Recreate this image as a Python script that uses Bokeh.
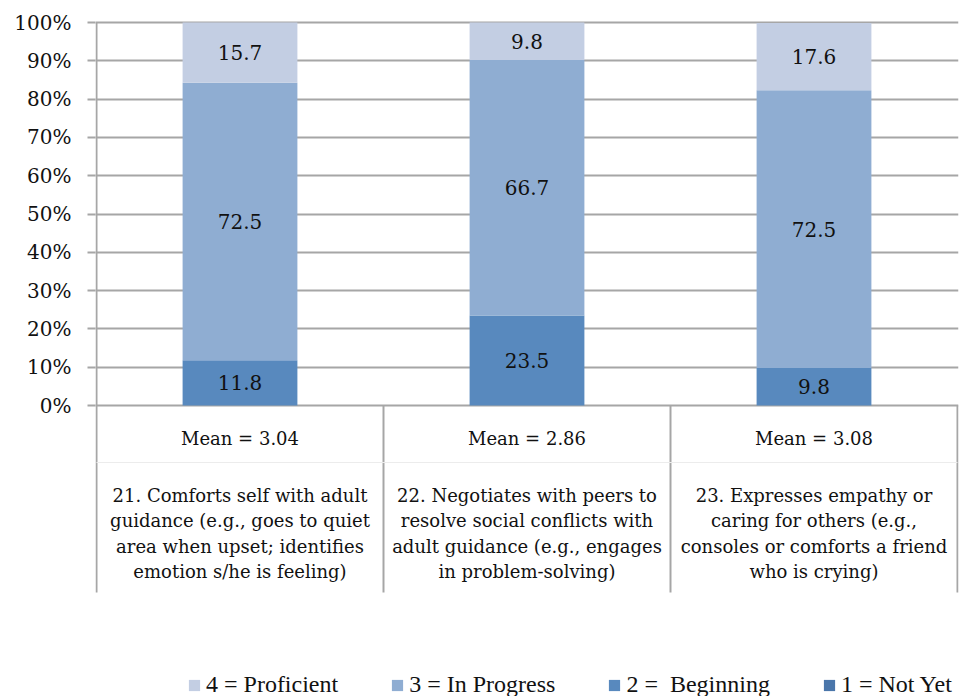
import numpy as np
from bokeh.plotting import figure
from bokeh.models import (ColumnDataSource, Range1d, FixedTicker, PrintfTickFormatter,
                          Legend, LegendItem)
from bokeh.core.properties import value
from bokeh.embed import file_html
from bokeh.resources import INLINE

# --- data -------------------------------------------------------------------
items = ["21", "22", "23"]
descriptions = [
    "21. Comforts self with adult\nguidance (e.g., goes to quiet\narea when upset; identifies\nemotion s/he is feeling)",
    "22. Negotiates with peers to\nresolve social conflicts with\nadult guidance (e.g., engages\nin problem-solving)",
    "23. Expresses empathy or\ncaring for others (e.g.,\nconsoles or comforts a friend\nwho is crying)",
]
means = [3.04, 2.86, 3.08]

not_yet = [0.0, 0.0, 0.0]
beginning = [11.8, 23.5, 9.8]
in_progress = [72.5, 66.7, 72.5]
proficient = [15.7, 9.8, 17.6]

series_keys = ["not_yet", "beginning", "in_progress", "proficient"]
series_names = ["1 = Not Yet", "2 =  Beginning", "3 = In Progress", "4 = Proficient"]
series_colors = ["#4A76AA", "#5889BE", "#8FADD2", "#C3CEE3"]

y_ticks = [0, 10, 20, 30, 40, 50, 60, 70, 80, 90, 100]

# --- figure -----------------------------------------------------------------
SERIF = "DejaVu Serif"
GRID = "#A6A6A6"
px_per_pct = 3.83          # vertical scale used to place the lower label band
px_per_cat = 287.0

y_top = 100 + 2 / px_per_pct
y_bottom = y_top - 676 / px_per_pct

xs = [1, 2, 3]
p = figure(width=966, height=696, output_backend="svg", toolbar_location=None,
           x_range=Range1d(start=0.5 - 1 / px_per_cat, end=3.5 + 1 / px_per_cat),
           y_range=Range1d(start=y_bottom, end=y_top),
           x_axis_location=None,
           min_border_left=95, min_border_right=8, min_border_top=20, min_border_bottom=0)
p.outline_line_color = None
p.background_fill_color = "white"
p.border_fill_color = "white"

yax = p.yaxis[0]
yax.ticker = FixedTicker(ticks=y_ticks)
yax.formatter = PrintfTickFormatter(format="%d%%")
yax.axis_line_color = None
yax.major_tick_line_color = GRID
yax.major_tick_line_width = 2
yax.major_tick_in = 0
yax.major_tick_out = 8
yax.minor_tick_line_color = None
yax.major_label_standoff = 16
yax.major_label_text_font = SERIF
yax.major_label_text_font_size = "20px"
yax.major_label_text_color = "#111111"

p.xgrid.visible = False
p.ygrid.ticker = FixedTicker(ticks=y_ticks)
p.ygrid.grid_line_color = GRID
p.ygrid.grid_line_width = 2

# --- stacked bars -------------------------------------------------------------
src = ColumnDataSource(dict(x=xs, not_yet=not_yet, beginning=beginning,
                            in_progress=in_progress, proficient=proficient))
bars = p.vbar_stack(series_keys, x="x", width=0.4, source=src,
                    color=series_colors, line_color=None)

# value labels at the middle of each non-empty segment
stack = np.array([not_yet, beginning, in_progress, proficient])
tops = np.cumsum(stack, axis=0)
mids = tops - stack / 2
lx, ly, lt = [], [], []
for s in range(stack.shape[0]):
    for c in range(stack.shape[1]):
        if stack[s, c] > 0:
            lx.append(xs[c]); ly.append(mids[s, c]); lt.append(f"{stack[s, c]:.1f}")
p.text(x=lx, y=ly, text=lt, text_align="center", text_baseline="middle",
       text_font=value(SERIF), text_font_size="20px", text_color="#111111")

# --- category label band below the axis --------------------------------------
band_bottom = -(592 - 405) / px_per_pct
edges = [0.5, 1.5, 2.5, 3.5]
p.segment(x0=[0.5], y0=[100], x1=[0.5], y1=[0], line_color=GRID, line_width=2)
p.segment(x0=edges, y0=[0] * 4, x1=edges, y1=[band_bottom] * 4,
          line_color=GRID, line_width=2)
sep_y = -(462 - 405) / px_per_pct
p.segment(x0=[0.5], y0=[sep_y], x1=[3.5], y1=[sep_y], line_color="#ECECEC", line_width=1)

p.text(x=xs, y=[-(438 - 405) / px_per_pct] * 3, text=[f"Mean = {m:.2f}" for m in means],
       text_align="center", text_baseline="middle",
       text_font=value(SERIF), text_font_size="18px", text_color="#111111")
p.text(x=xs, y=[-(533 - 405) / px_per_pct] * 3, text=descriptions,
       text_align="center", text_baseline="middle", text_line_height=1.2,
       text_font=value(SERIF), text_font_size="18px", text_color="#111111")

# --- legend ---------------------------------------------------------------------
legend_items = [LegendItem(label=series_names[i], renderers=[bars[i]]) for i in (3, 2, 1, 0)]
legend = Legend(items=legend_items, orientation="horizontal", location=(92, -2),
                padding=0, margin=0, spacing=52, glyph_width=14, glyph_height=14,
                label_standoff=5, label_text_font="Liberation Serif",
                label_text_font_size="24px", label_text_color="#111111",
                border_line_color=None, background_fill_alpha=0)
p.add_layout(legend)

open("out.html", "w").write(file_html(p, INLINE))
